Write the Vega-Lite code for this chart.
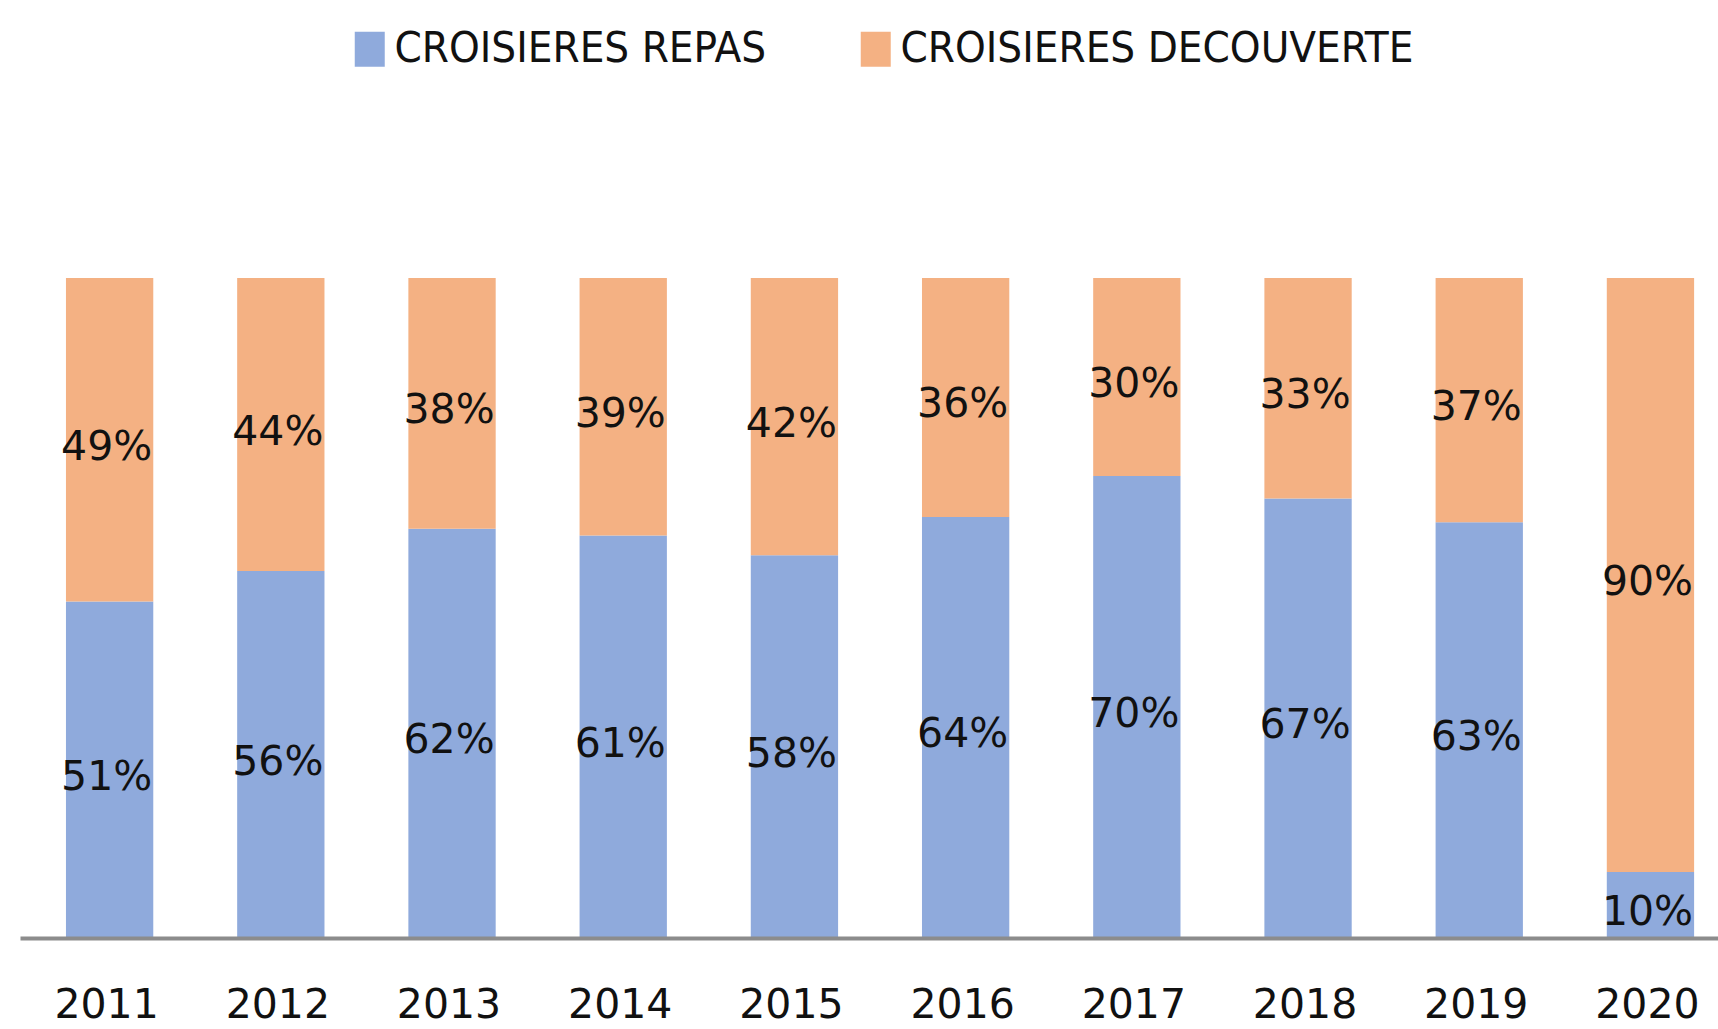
{
  "$schema": "https://vega.github.io/schema/vega-lite/v6.json",
  "autosize": "none",
  "width": 1698,
  "height": 660,
  "padding": {"left": 20, "top": 278, "right": 0, "bottom": 91},
  "background": "white",
  "config": {"view": {"stroke": null}},
  "data": {
    "values": [
      {"year": "2011", "cat": "CROISIERES REPAS", "value": 0.51},
      {"year": "2011", "cat": "CROISIERES DECOUVERTE", "value": 0.49},
      {"year": "2012", "cat": "CROISIERES REPAS", "value": 0.556},
      {"year": "2012", "cat": "CROISIERES DECOUVERTE", "value": 0.444},
      {"year": "2013", "cat": "CROISIERES REPAS", "value": 0.62},
      {"year": "2013", "cat": "CROISIERES DECOUVERTE", "value": 0.38},
      {"year": "2014", "cat": "CROISIERES REPAS", "value": 0.61},
      {"year": "2014", "cat": "CROISIERES DECOUVERTE", "value": 0.39},
      {"year": "2015", "cat": "CROISIERES REPAS", "value": 0.58},
      {"year": "2015", "cat": "CROISIERES DECOUVERTE", "value": 0.42},
      {"year": "2016", "cat": "CROISIERES REPAS", "value": 0.638},
      {"year": "2016", "cat": "CROISIERES DECOUVERTE", "value": 0.362},
      {"year": "2017", "cat": "CROISIERES REPAS", "value": 0.70},
      {"year": "2017", "cat": "CROISIERES DECOUVERTE", "value": 0.30},
      {"year": "2018", "cat": "CROISIERES REPAS", "value": 0.666},
      {"year": "2018", "cat": "CROISIERES DECOUVERTE", "value": 0.334},
      {"year": "2019", "cat": "CROISIERES REPAS", "value": 0.63},
      {"year": "2019", "cat": "CROISIERES DECOUVERTE", "value": 0.37},
      {"year": "2020", "cat": "CROISIERES REPAS", "value": 0.10},
      {"year": "2020", "cat": "CROISIERES DECOUVERTE", "value": 0.90}
    ]
  },
  "transform": [
    {"stack": "value", "groupby": ["year"], "sort": [{"field": "cat", "order": "descending"}], "as": ["y0", "y1"]}
  ],
  "layer": [
    {
      "mark": {"type": "bar"},
      "encoding": {
        "x": {
          "field": "year", "type": "nominal",
          "scale": {"paddingInner": 0.49, "paddingOuter": 0.204, "align": 0.658},
          "axis": {
            "title": null, "labelAngle": 0, "ticks": false, "tickSize": 0,
            "domainColor": "#8c8c8c", "domainWidth": 4, "zindex": 1,
            "labelFont": "DejaVu Sans", "labelFontSize": 41, "labelColor": "#111111",
            "labelBaseline": "alphabetic", "labelPadding": 79, "labelOffset": -3
          }
        },
        "y": {"field": "y0", "type": "quantitative", "scale": {"domain": [0, 1], "nice": false}, "axis": null},
        "y2": {"field": "y1"},
        "color": {
          "field": "cat", "type": "nominal",
          "scale": {"domain": ["CROISIERES REPAS", "CROISIERES DECOUVERTE"], "range": ["#8faadc", "#f4b183"]},
          "legend": {
            "title": null, "orient": "none", "direction": "horizontal",
            "legendX": 328, "legendY": -251, "padding": 0,
            "symbolType": "M-0.857,-1H0.857V1H-0.857Z", "symbolSize": 1225, "symbolStrokeWidth": 0,
            "labelFont": "DejaVu Sans Condensed", "labelFontSize": 43.5, "labelColor": "#111111",
            "labelOffset": 3, "columnPadding": 88, "labelLimit": 1000
          }
        }
      }
    },
    {
      "transform": [
        {"fold": ["y0", "y1"], "as": ["k", "v"]},
        {"aggregate": [{"op": "mean", "field": "v", "as": "mid"}], "groupby": ["year", "cat", "value"]}
      ],
      "mark": {"type": "text", "font": "DejaVu Sans", "fontSize": 41, "color": "#111111", "baseline": "middle", "dy": 8, "dx": -3},
      "encoding": {
        "x": {"field": "year", "type": "nominal"},
        "y": {"field": "mid", "type": "quantitative"},
        "text": {"field": "value", "type": "quantitative", "format": ".0%"}
      }
    }
  ]
}
